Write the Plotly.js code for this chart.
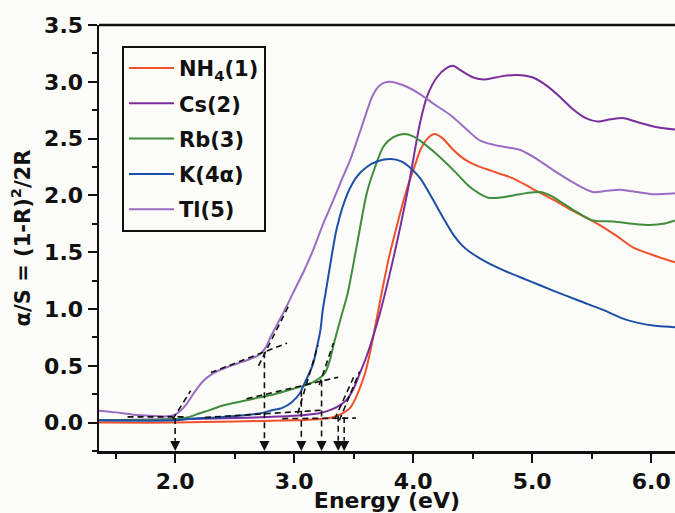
<!DOCTYPE html>
<html><head><meta charset="utf-8">
<script src="https://cdn.plot.ly/plotly-3.0.1.min.js"></script>
<style>html,body{margin:0;padding:0;background:#fcfcf9;} #chart{width:675px;height:513px;}</style>
</head><body><div id="chart"></div>
<script>
// ---- data ----
const seriesNames = ['NH<sub>4</sub>(1)', 'Cs(2)', 'Rb(3)', 'K(4\u03b1)', 'Tl(5)'];

const nh4E = [1.36,2.0,2.5,3.0,3.2,3.3,3.36,3.42,3.47,3.5,3.55,3.6,3.65,3.7,3.75,3.8,3.86,3.92,3.97,4.02,4.06,4.12,4.18,4.25,4.32,4.39,4.46,4.54,4.62,4.73,4.84,5.0,5.18,5.35,5.55,5.7,5.85,6.0,6.2];
const nh4Y = [0.0,0.0,0.01,0.02,0.03,0.04,0.06,0.09,0.13,0.18,0.30,0.45,0.68,0.95,1.22,1.47,1.72,1.96,2.13,2.28,2.40,2.50,2.54,2.50,2.42,2.35,2.30,2.26,2.23,2.19,2.15,2.06,1.96,1.86,1.75,1.65,1.54,1.48,1.41];

const csE = [1.36,2.0,2.5,3.0,3.2,3.3,3.38,3.44,3.5,3.55,3.6,3.64,3.72,3.83,3.95,4.06,4.12,4.2,4.28,4.34,4.4,4.5,4.6,4.75,4.87,5.0,5.13,5.24,5.34,5.45,5.55,5.66,5.77,5.9,6.05,6.2];
const csY = [0.02,0.03,0.04,0.06,0.08,0.11,0.15,0.2,0.3,0.43,0.56,0.68,0.96,1.43,2.02,2.65,2.88,3.04,3.12,3.14,3.10,3.04,3.02,3.05,3.06,3.04,2.96,2.86,2.76,2.68,2.65,2.67,2.68,2.64,2.60,2.58];

const rbE = [1.36,2.0,2.1,2.2,2.29,2.4,2.57,2.7,2.8,2.9,3.0,3.1,3.2,3.26,3.3,3.34,3.4,3.45,3.53,3.61,3.68,3.75,3.83,3.92,4.0,4.06,4.2,4.34,4.46,4.55,4.63,4.72,4.84,4.95,5.07,5.17,5.26,5.38,5.51,5.68,5.85,5.99,6.1,6.2];
const rbY = [0.02,0.03,0.045,0.08,0.11,0.15,0.19,0.22,0.24,0.27,0.30,0.33,0.38,0.44,0.55,0.72,0.95,1.14,1.58,2.02,2.25,2.43,2.51,2.54,2.52,2.48,2.36,2.22,2.09,2.02,1.98,1.98,2.0,2.02,2.03,1.99,1.93,1.85,1.78,1.77,1.75,1.74,1.75,1.78];

const kE = [1.36,2.0,2.15,2.4,2.71,2.8,2.9,2.98,3.05,3.08,3.12,3.16,3.19,3.22,3.24,3.27,3.30,3.36,3.45,3.53,3.61,3.7,3.81,3.9,3.98,4.06,4.13,4.2,4.27,4.34,4.41,4.48,4.62,4.76,4.97,5.18,5.4,5.6,5.75,5.88,6.05,6.2];
const kY = [0.02,0.02,0.035,0.05,0.08,0.105,0.13,0.18,0.26,0.33,0.42,0.52,0.66,0.81,0.99,1.18,1.37,1.72,2.02,2.17,2.25,2.30,2.32,2.30,2.24,2.15,2.03,1.90,1.77,1.65,1.56,1.50,1.41,1.34,1.25,1.16,1.07,0.99,0.92,0.88,0.85,0.84];

const tlE = [1.36,1.5,1.65,1.8,1.93,2.0,2.05,2.1,2.17,2.24,2.3,2.37,2.44,2.55,2.63,2.71,2.76,2.8,2.86,2.93,2.99,3.08,3.16,3.24,3.33,3.4,3.47,3.56,3.66,3.72,3.79,3.86,3.96,4.06,4.18,4.31,4.45,4.55,4.62,4.75,4.9,5.04,5.18,5.35,5.51,5.62,5.74,5.88,6.02,6.2];
const tlY = [0.105,0.09,0.07,0.06,0.055,0.07,0.11,0.17,0.28,0.37,0.42,0.46,0.49,0.53,0.56,0.60,0.66,0.75,0.87,1.01,1.14,1.33,1.52,1.74,1.96,2.14,2.31,2.58,2.88,2.97,3.00,2.99,2.95,2.89,2.80,2.71,2.58,2.49,2.46,2.43,2.40,2.32,2.22,2.11,2.03,2.04,2.05,2.03,2.01,2.02];

// tangent construction lines (start/end points)
const tanX0 = [1.6, 1.98, 2.3, 2.70, 2.25, 3.03, 2.6, 3.21, 2.9, 3.34, 3.38];
const tanY0 = [0.05, 0.03, 0.44, 0.50, 0.045, 0.08, 0.21, 0.33, 0.035, 0.03, 0.02];
const tanX1 = [2.1, 2.13, 2.94, 2.95, 3.24, 3.2, 3.37, 3.33, 3.52, 3.5, 3.55];
const tanY1 = [0.05, 0.28, 0.70, 1.02, 0.11, 0.68, 0.40, 0.70, 0.04, 0.40, 0.45];

// band-gap onsets marked by arrows
const onsetE   = [2.0, 2.75, 3.06, 3.23, 3.37, 3.42];
const onsetTop = [0.04, 0.62, 0.28, 0.37, 0.06, 0.05];

// ---- styles ----
const colors = ['#f0502a', '#7a2e9e', '#3f8d3c', '#1d4fa6', '#9a6cc2'];
const yMin = -0.25, yMax = 3.5;
const bg = '#fcfcf9';
const fontFam = 'DejaVu Sans, Liberation Sans, Arial, sans-serif';

const seriesE = [nh4E, csE, rbE, kE, tlE];
const seriesY = [nh4Y, csY, rbY, kY, tlY];

const traces = [];
seriesE.forEach((xs, i) => {
  traces.push({
    x: xs, y: seriesY[i], type: 'scatter', mode: 'lines',
    name: seriesNames[i], legendgroup: 'g' + i,
    line: {color: colors[i], width: 2, shape: 'spline', smoothing: 0.8}
  });
});

// dashed tangents
const dx = [], dy = [];
tanX0.forEach((x0, i) => { dx.push(x0, tanX1[i], null); dy.push(tanY0[i], tanY1[i], null); });
// dashed verticals down to arrow heads
const headLen = 0.09; // arrow head height in data units
onsetE.forEach((e, i) => { dx.push(e, e, null); dy.push(onsetTop[i], yMin + headLen, null); });
traces.push({x: dx, y: dy, type: 'scatter', mode: 'lines', showlegend: false, hoverinfo: 'skip',
  line: {color: '#111', width: 1.6, dash: '6px,4px'}});

// arrow heads (tip on the axis)
traces.push({x: onsetE, y: onsetE.map(() => yMin), type: 'scatter', mode: 'markers', showlegend: false,
  marker: {symbol: 'arrow-down', size: 10, color: '#111', line: {width: 0}}, cliponaxis: false});

const tickFont = {family: fontFam, size: 22, weight: 'bold', color: '#111'};

const layout = {
  width: 675, height: 513,
  margin: {l: 99, r: 0, t: 25, b: 62},
  paper_bgcolor: bg, plot_bgcolor: bg,
  font: {family: fontFam, color: '#111'},
  showlegend: true,
  legend: {x: 0.04, y: 0.951, xanchor: 'left', yanchor: 'top', bgcolor: bg,
    bordercolor: '#111', borderwidth: 2, font: {family: fontFam, size: 21, weight: 'bold', color: '#111'},
    tracegroupgap: 5, itemwidth: 45},
  xaxis: {
    range: [1.36, 6.2], tick0: 0, dtick: 1, tickformat: '.1f',
    ticks: 'outside', ticklen: 9, tickwidth: 2, tickcolor: '#111',
    showline: true, linewidth: 2.5, linecolor: '#111', showgrid: false, zeroline: false,
    tickfont: tickFont,
    minor: {dtick: 0.5, ticks: 'outside', ticklen: 5, tickwidth: 2, tickcolor: '#111', showgrid: false},
    title: {text: 'Energy (eV)', font: {family: fontFam, size: 22, weight: 'bold', color: '#111'}, standoff: 5}
  },
  yaxis: {
    range: [yMin, yMax], tick0: 0, dtick: 0.5, tickformat: '.1f',
    ticks: 'outside', ticklen: 9, tickwidth: 2, tickcolor: '#111',
    showline: true, linewidth: 2.5, linecolor: '#111', showgrid: false, zeroline: false,
    tickfont: tickFont,
    minor: {dtick: 0.25, ticks: 'outside', ticklen: 5, tickwidth: 2, tickcolor: '#111', showgrid: false},
    title: {text: '\u03b1/S = (1-R)<sup>2</sup>/2R', font: {family: fontFam, size: 21, weight: 'bold', color: '#111'}, standoff: 8}
  },
  shapes: [{type: 'line', xref: 'paper', yref: 'paper', x0: 0, x1: 1, y0: 1, y1: 1,
    line: {color: '#111', width: 2.5}}]
};

Plotly.newPlot('chart', traces, layout, {displayModeBar: false, staticPlot: true});
</script></body></html>
